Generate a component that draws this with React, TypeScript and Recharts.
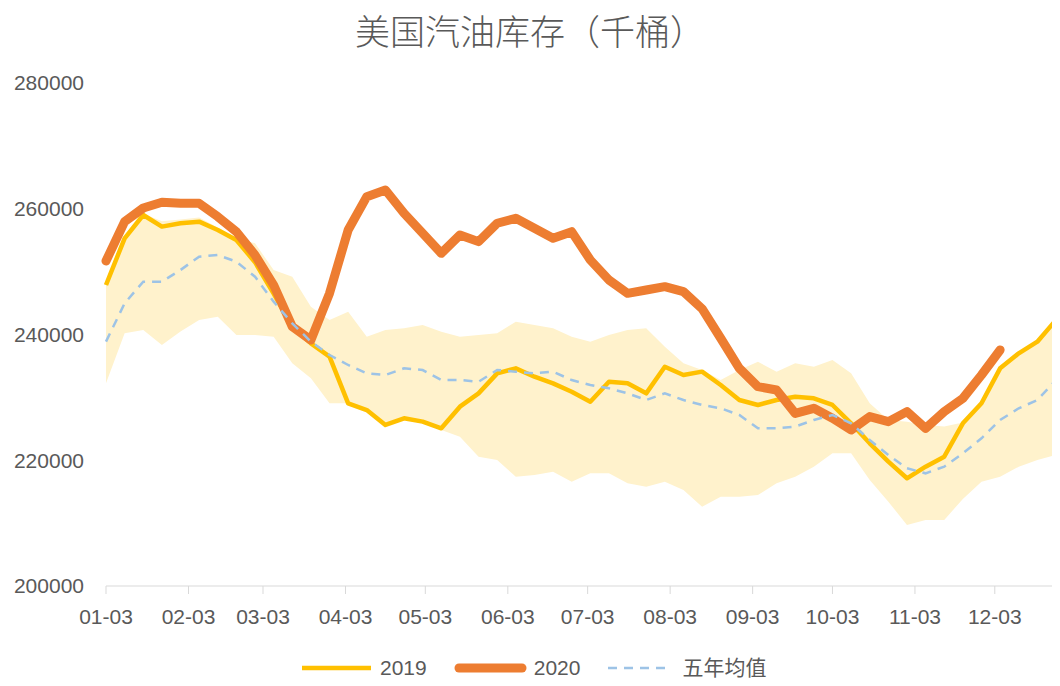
import { ComposedChart, Area, Line, XAxis, YAxis } from 'recharts';

const FONT = "'Liberation Sans', 'Noto Sans CJK SC', sans-serif";
const TEXT = '#595959';

const C2019 = '#FFC000';
const C2020 = '#ED7D31';
const CAVG = '#9DC3E6';
const CBAND = '#FFF2CC';

// x axis: days since 01-03, one point per week
const monthTicks = [0, 31, 59, 90, 120, 151, 181, 212, 243, 273, 304, 334];
const monthLabels = ['01-03', '02-03', '03-03', '04-03', '05-03', '06-03', '07-03', '08-03', '09-03', '10-03', '11-03', '12-03'];
const yTicks = [200000, 220000, 240000, 260000, 280000];

const y2019 = [
  247870, 255300, 259010, 257160, 257690, 257950, 256620, 255030, 251500, 246500,
  241200, 238600, 236470, 229050, 227990, 225610, 226670, 226140, 225080, 228520,
  230640, 233820, 234620, 233290, 232230, 230900, 229310, 232490, 232230, 230640,
  234880, 233560, 234090, 231970, 229580, 228790, 229580, 230110, 229850, 228790,
  225880, 222700, 219780, 217130, 218980, 220570, 225880, 229060, 234620, 237010,
  238860, 242310,
];

const y2020 = [
  251690, 257950, 260120, 261030, 260870, 260870, 258740, 256350, 252640, 247870,
  241240, 239120, 246550, 256620, 261920, 262980, 259280, 256100, 252910, 255830,
  254770, 257690, 258480, 256890, 255300, 256350, 251850, 248670, 246550, 247080,
  247610, 246820, 244100, 239400, 234620, 231700, 231170, 227460, 228260, 226670,
  224810, 226940, 226140, 227730, 225080, 227730, 229850, 233560, 237540,
];

const avg5 = [
  238860, 244960, 248400, 248400, 250260, 252380, 252640, 251580, 249190, 245220,
  241770, 238860, 236740, 235150, 233820, 233560, 234620, 234350, 232760, 232760,
  232490, 234350, 234090, 233820, 234090, 232760, 231970, 231440, 230640, 229580,
  230640, 229580, 228790, 228260, 227200, 225080, 225080, 225350, 226400, 227200,
  225880, 223220, 220830, 218720, 217920, 218980, 221100, 223490, 226400, 228260,
  229580, 232760,
];

const bandMax = [
  248000, 255500, 259200, 258000, 258300, 258600, 257000, 255300, 254500, 250260,
  249200, 244430, 242310, 243630, 239650, 240720, 240980, 241510, 240450, 239650,
  239920, 240190, 242040, 241510, 240980, 239650, 238860, 239920, 240720, 240980,
  238070, 235420, 234350, 232760, 234350, 235670, 234090, 235410, 234880, 235940,
  233820, 229060, 226400, 226140, 225610, 225350, 226000, 229060, 234620, 237010,
  238860, 242310,
];

const bandMin = [
  232240, 240190, 240720, 238330, 240460, 242310, 242840, 239920, 239920, 239650,
  235410, 233030, 229060, 229060, 227730, 225610, 226400, 226140, 224810, 223750,
  220570, 220040, 217390, 217650, 218180, 216590, 217920, 217920, 216330, 215800,
  216590, 215270, 212620, 214210, 214210, 214470, 216330, 217390, 218980, 221100,
  221100, 216860, 213410, 209700, 210500, 210500, 213850, 216590, 217390, 218980,
  220040, 220830,
];

const data = y2019.map((v, i) => ({
  day: i * 7,
  range: [bandMin[i], bandMax[i]],
  y2019: v,
  y2020: i < y2020.length ? y2020[i] : null,
  avg: avg5[i],
}));

function LegendItem({ kind, label }: { kind: string; label: string }) {
  return (
    <div style={{ display: 'flex', alignItems: 'center', marginRight: 27 }}>
      <svg width={kind === 'avg' ? 64 : 73} height={12} style={{ marginRight: kind === 'avg' ? 11 : 7 }}>
        {kind === 'y2019' && <line x1={2} y1={6} x2={71} y2={6} stroke={C2019} strokeWidth={4.5} />}
        {kind === 'y2020' && <line x1={5} y1={6} x2={68} y2={6} stroke={C2020} strokeWidth={9} strokeLinecap="round" />}
        {kind === 'avg' && <line x1={1} y1={6} x2={64} y2={6} stroke={CAVG} strokeWidth={2.5} strokeDasharray="9 7" />}
      </svg>
      <span style={{ fontSize: 21, color: TEXT, fontFamily: FONT, lineHeight: '24px' }}>{label}</span>
    </div>
  );
}

export default function App() {
  return (
    <div style={{ position: 'relative', width: 1052, height: 678, fontFamily: FONT }}>
      <div
        style={{
          position: 'absolute', top: 2, left: 0, width: 1044, textAlign: 'center', lineHeight: '40px',
          fontSize: 35, color: TEXT, fontFamily: "'Noto Sans CJK SC', sans-serif", fontWeight: 300,
        }}
      >
        美国汽油库存（千桶）
      </div>

      <ComposedChart width={1052} height={678} data={data} margin={{ top: 75, right: 4, bottom: 50, left: 8 }}>
        <XAxis
          dataKey="day"
          type="number"
          domain={[0, 357]}
          ticks={monthTicks}
          interval={0}
          tickFormatter={(d: number) => monthLabels[monthTicks.indexOf(d)]}
          stroke="#d9d9d9"
          tickSize={8}
          tickMargin={15}
          height={50}
          tick={{ fill: TEXT, fontSize: 21, fontFamily: FONT }}
        />
        <YAxis
          domain={[200000, 280000]}
          ticks={yTicks}
          width={90}
          axisLine={false}
          tickLine={false}
          tickSize={0}
          tickMargin={22}
          tick={{ fill: TEXT, fontSize: 21, fontFamily: FONT }}
        />
        <Area dataKey="range" stroke="none" fill={CBAND} fillOpacity={1} isAnimationActive={false} />
        <Line dataKey="y2019" stroke={C2019} strokeWidth={4.5} dot={false} strokeLinejoin="round" isAnimationActive={false} />
        <Line dataKey="y2020" stroke={C2020} strokeWidth={9} dot={false} strokeLinejoin="round" strokeLinecap="round" isAnimationActive={false} />
        <Line dataKey="avg" stroke={CAVG} strokeWidth={2.5} strokeDasharray="9 7" dot={false} isAnimationActive={false} />
      </ComposedChart>

      <div style={{ position: 'absolute', left: 292, top: 648, display: 'flex', alignItems: 'center' }}>
        <LegendItem kind="y2019" label="2019" />
        <LegendItem kind="y2020" label="2020" />
        <LegendItem kind="avg" label="五年均值" />
      </div>
    </div>
  );
}
